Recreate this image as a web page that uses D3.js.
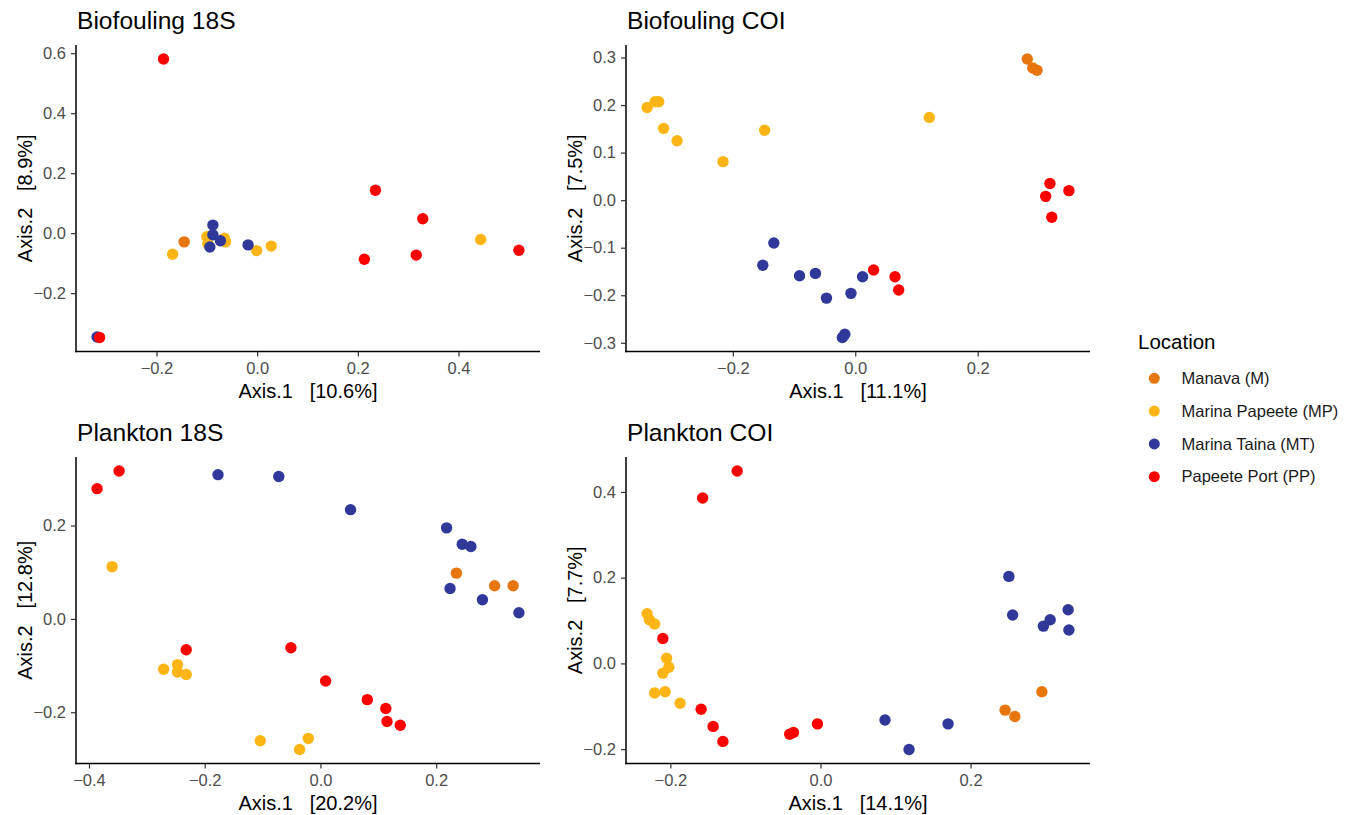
<!DOCTYPE html>
<html>
<head>
<meta charset="utf-8">
<script src="https://cdn.jsdelivr.net/npm/d3@7"></script>
<style>
  body { margin: 0; background: #fff; }
  svg { font-family: "Liberation Sans", Arial, Helvetica, sans-serif; }
</style>
</head>
<body>
<div id="chart"></div>
<script>
// locations, legend order
var locations = ['Manava (M)', 'Marina Papeete (MP)', 'Marina Taina (MT)', 'Papeete Port (PP)'];
var locColors = ['#E8760F', '#FDB515', '#30399A', '#FF0000'];

// ordination scores per panel: [axis1, axis2, location index]
var bio18S = [
  [-0.145, -0.029, 0],
  [-0.168, -0.070, 1], [-0.100, -0.012, 1], [-0.098, -0.035, 1], [-0.065, -0.017, 1],
  [-0.063, -0.029, 1], [-0.001, -0.058, 1], [0.028, -0.043, 1], [0.444, -0.021, 1],
  [-0.318, -0.346, 2], [-0.088, 0.027, 2], [-0.088, -0.005, 2], [-0.094, -0.046, 2],
  [-0.073, -0.025, 2], [-0.018, -0.039, 2],
  [-0.186, 0.581, 3], [0.235, 0.143, 3], [0.329, 0.048, 3], [0.213, -0.087, 3],
  [0.316, -0.073, 3], [0.520, -0.057, 3], [-0.313, -0.348, 3]
];
var bioCOI = [
  [0.281, 0.297, 0], [0.290, 0.278, 0], [0.297, 0.273, 0],
  [-0.340, 0.195, 1], [-0.327, 0.207, 1], [-0.321, 0.207, 1], [-0.313, 0.151, 1],
  [-0.291, 0.125, 1], [-0.216, 0.081, 1], [-0.148, 0.147, 1], [0.121, 0.174, 1],
  [-0.133, -0.090, 2], [-0.151, -0.137, 2], [-0.091, -0.159, 2], [-0.065, -0.154, 2],
  [-0.047, -0.206, 2], [-0.007, -0.196, 2], [0.012, -0.161, 2], [-0.017, -0.282, 2],
  [-0.021, -0.289, 2],
  [0.318, 0.035, 3], [0.311, 0.008, 3], [0.349, 0.020, 3], [0.321, -0.036, 3],
  [0.030, -0.147, 3], [0.065, -0.161, 3], [0.071, -0.189, 3]
];
var plank18S = [
  [0.235, 0.098, 0], [0.301, 0.071, 0], [0.333, 0.071, 0],
  [-0.360, 0.112, 1], [-0.271, -0.108, 1], [-0.247, -0.098, 1], [-0.247, -0.114, 1],
  [-0.232, -0.119, 1], [-0.104, -0.261, 1], [-0.036, -0.280, 1], [-0.021, -0.256, 1],
  [-0.177, 0.309, 2], [-0.072, 0.305, 2], [0.052, 0.234, 2], [0.218, 0.195, 2],
  [0.245, 0.160, 2], [0.260, 0.155, 2], [0.224, 0.065, 2], [0.280, 0.041, 2], [0.343, 0.013, 2],
  [-0.386, 0.279, 3], [-0.348, 0.317, 3], [-0.232, -0.066, 3], [-0.051, -0.062, 3],
  [0.009, -0.133, 3], [0.081, -0.173, 3], [0.113, -0.192, 3], [0.115, -0.220, 3], [0.138, -0.228, 3]
];
var plankCOI = [
  [0.295, -0.066, 0], [0.246, -0.109, 0], [0.259, -0.124, 0],
  [-0.231, 0.116, 1], [-0.228, 0.102, 1], [-0.221, 0.092, 1], [-0.205, 0.012, 1],
  [-0.202, -0.009, 1], [-0.210, -0.023, 1], [-0.221, -0.069, 1], [-0.207, -0.066, 1], [-0.187, -0.093, 1],
  [0.251, 0.203, 2], [0.256, 0.113, 2], [0.297, 0.087, 2], [0.306, 0.102, 2], [0.330, 0.125, 2],
  [0.331, 0.078, 2], [0.086, -0.132, 2], [0.170, -0.141, 2], [0.118, -0.201, 2],
  [-0.111, 0.449, 3], [-0.157, 0.386, 3], [-0.210, 0.058, 3], [-0.159, -0.107, 3],
  [-0.143, -0.147, 3], [-0.130, -0.182, 3], [-0.041, -0.165, 3], [-0.036, -0.161, 3], [-0.004, -0.141, 3]
];

var panelTitles = ['Biofouling 18S', 'Biofouling COI', 'Plankton 18S', 'Plankton COI'];
var panelData = [bio18S, bioCOI, plank18S, plankCOI];
var axis1Pct = ['10.6%', '11.1%', '20.2%', '14.1%'];
var axis2Pct = ['8.9%', '7.5%', '12.8%', '7.7%'];
var xTickVals = [[-0.2, 0, 0.2, 0.4], [-0.2, 0, 0.2], [-0.4, -0.2, 0, 0.2], [-0.2, 0, 0.2]];
var yTickVals = [[-0.2, 0, 0.2, 0.4, 0.6], [-0.3, -0.2, -0.1, 0, 0.1, 0.2, 0.3], [-0.2, 0, 0.2], [-0.2, 0, 0.2, 0.4]];

var W = 1354, H = 815;
var svg = d3.select('#chart').append('svg').attr('width', W).attr('height', H);

// plot area of each panel
var pw = 464, ph = 306.5;
var origins = [[76, 45], [626, 45], [76, 457], [626, 457]];

var fmt = d3.format('.1f');

function expand(ext) {
  var pad = (ext[1] - ext[0]) * 0.05;
  return [ext[0] - pad, ext[1] + pad];
}

panelData.forEach(function (pts, i) {
  var ox = origins[i][0], oy = origins[i][1];
  var g = svg.append('g').attr('transform', 'translate(' + ox + ',' + oy + ')');

  var x = d3.scaleLinear().domain(expand(d3.extent(pts, function (d) { return d[0]; }))).range([0, pw]);
  var y = d3.scaleLinear().domain(expand(d3.extent(pts, function (d) { return d[1]; }))).range([ph, 0]);

  var xAxis = g.append('g').attr('transform', 'translate(0,' + ph + ')')
    .call(d3.axisBottom(x).tickValues(xTickVals[i]).tickFormat(fmt).tickSize(5).tickPadding(6).tickSizeOuter(0));
  var yAxis = g.append('g')
    .call(d3.axisLeft(y).tickValues(yTickVals[i]).tickFormat(fmt).tickSize(5).tickPadding(5).tickSizeOuter(0));

  [xAxis, yAxis].forEach(function (a) {
    a.select('.domain').attr('stroke', '#000').attr('stroke-width', 1.5);
    a.selectAll('.tick line').attr('stroke', '#333').attr('stroke-width', 1.2);
    a.selectAll('.tick text').attr('fill', '#4d4d4d').style('font-size', '16.5px');
  });
  // join the two axis lines at the corner
  xAxis.select('.domain').attr('d', 'M-0.75,0H' + pw);
  yAxis.select('.domain').attr('d', 'M0,' + (ph + 0.75) + 'V0');

  g.selectAll('circle.pt')
    .data(pts)
    .join('circle')
    .attr('class', 'pt')
    .attr('cx', function (d) { return x(d[0]); })
    .attr('cy', function (d) { return y(d[1]); })
    .attr('r', 5.7)
    .attr('fill', function (d) { return locColors[d[2]]; });

  g.append('text')
    .attr('x', 1).attr('y', -16)
    .style('font-size', '24.6px').attr('fill', '#000')
    .text(panelTitles[i]);

  g.append('text')
    .attr('x', pw / 2).attr('y', ph + 46)
    .attr('text-anchor', 'middle')
    .style('font-size', '20px').attr('fill', '#000')
    .attr('xml:space', 'preserve')
    .text('Axis.1   [' + axis1Pct[i] + ']');

  g.append('text')
    .attr('transform', 'translate(-44.5,' + (ph / 2) + ') rotate(-90)')
    .attr('text-anchor', 'middle')
    .style('font-size', '20px').attr('fill', '#000')
    .attr('xml:space', 'preserve')
    .text('Axis.2   [' + axis2Pct[i] + ']');
});

// legend
var legend = svg.append('g').attr('transform', 'translate(1138,0)');
legend.append('text').attr('x', 0).attr('y', 349).style('font-size', '20.5px').attr('fill', '#000').text('Location');
var items = legend.selectAll('g.item').data(locations).join('g')
  .attr('class', 'item')
  .attr('transform', function (d, k) { return 'translate(0,' + (378.3 + k * 32.8) + ')'; });
items.append('circle').attr('cx', 16.3).attr('cy', 0).attr('r', 5.5)
  .attr('fill', function (d, k) { return locColors[k]; });
items.append('text').attr('x', 43.5).attr('y', 0).attr('dy', '0.35em')
  .style('font-size', '16.5px').attr('fill', '#1a1a1a')
  .text(function (d) { return d; });
</script>
</body>
</html>
